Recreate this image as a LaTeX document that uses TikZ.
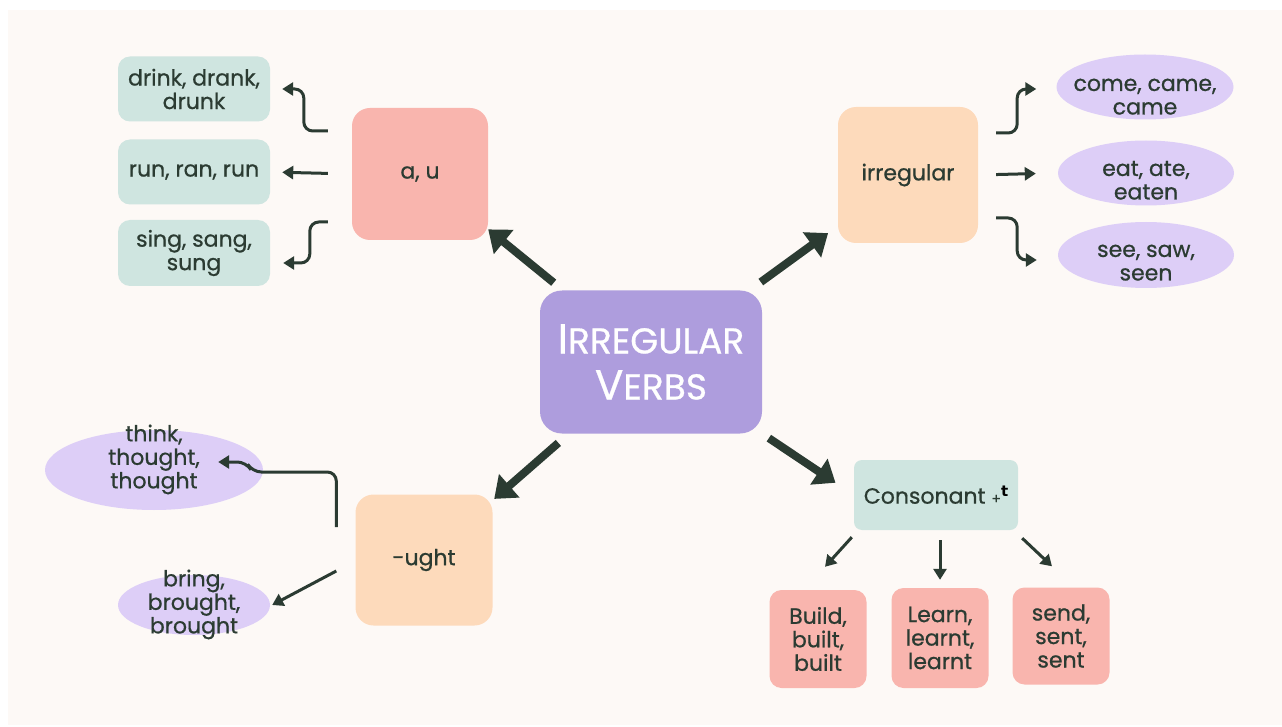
\documentclass[tikz,border=0pt]{standalone}
\usepackage{fontspec}
\setmainfont{Poppins}[FakeBold=0.7]
\newfontfamily\plusfont{DejaVu Sans}
\usetikzlibrary{arrows.meta,shapes.geometric}

\definecolor{paper}{HTML}{FDF9F6}
\definecolor{ink}{HTML}{2B3B32}
\definecolor{tealbox}{HTML}{CFE5E0}
\definecolor{pinkbox}{HTML}{F9B5AE}
\definecolor{peachbox}{HTML}{FDDABB}
\definecolor{lilac}{HTML}{DDCEF7}
\definecolor{hubpurple}{HTML}{AE9DDD}

\newcommand\leaffont{\fontsize{22}{23.5}\selectfont}
\newcommand\hubfont{\fontsize{36}{46}\selectfont}
% centred lines of text, drawn moved up or down by the optional amount
% while keeping their natural height and depth
\newcommand\wordstack[2][0pt]{\raisebox{#1}[\height][\depth]{\begin{tabular}{@{}c@{}}#2\end{tabular}}}

\tikzset{
  card/.style={rounded corners=12pt, inner sep=0pt, align=center,
    text=ink, font=\leaffont},
  blob/.style={card, rounded corners=18pt},
  oval/.style={ellipse, inner sep=-30pt, text=ink,
    font=\leaffont, fill=lilac},
  bigarrow/.style={draw=ink, line width=8pt,
    -{Triangle[length=20pt,width=30pt]}},
  smallarrow/.style={draw=ink, line width=3pt,
    -{Triangle[length=11pt,width=13pt]}, rounded corners=9pt},
}

\begin{document}
\begin{tikzpicture}[x=1pt,y=-1pt]
\useasboundingbox (0,0) rectangle (1282,727);
\fill[white] (0,0) rectangle (1282,727);
\fill[paper] (8,10) rectangle (1282,725);

% central topic
\node[blob, fill=hubpurple, text=white, font=\hubfont,
  minimum width=222pt, minimum height=143pt, rounded corners=22pt]
  (hub) at (651,362) {{\fontsize{42}{46}\selectfont I}RREGULAR\\
  {\fontsize{42}{46}\selectfont V}ERBS};

% vowel change a, u
\node[blob, fill=pinkbox, minimum width=136pt, minimum height=132pt]
  (au) at (420,174) {a, u};
\node[card, fill=tealbox, minimum width=152pt, minimum height=65pt]
  (drink) at (194,89) {drink, drank,\\drunk};
\node[card, fill=tealbox, minimum width=152pt, minimum height=65pt]
  (run) at (194,172) {run, ran, run};
\node[card, fill=tealbox, minimum width=152pt, minimum height=66pt]
  (sing) at (194,253) {sing, sang,\\sung};

% irregular
\node[blob, fill=peachbox, minimum width=140pt, minimum height=136pt]
  (irr) at (908,175) {irregular};
\node[oval, minimum width=177pt, minimum height=65pt]
  (come) at (1145,87) {\wordstack[-11pt]{come, came,\\came}};
\node[oval, minimum width=176pt, minimum height=65pt]
  (eat) at (1146,173) {\wordstack[-10pt]{eat, ate,\\eaten}};
\node[oval, minimum width=176pt, minimum height=66pt]
  (see) at (1146,255) {\wordstack[-9pt]{see, saw,\\seen}};

% -ught
\node[oval, minimum width=218pt, minimum height=80pt]
  (think) at (154,470) {\wordstack[10pt]{think,\\thought,\\thought}};
\node[oval, minimum width=152pt, minimum height=60pt]
  (bring) at (194,605) {\wordstack{bring,\\brought,\\brought}};
\node[blob, fill=peachbox, minimum width=137pt, minimum height=131pt]
  (ught) at (424,560) {-ught};

% consonant + t
\node[card, fill=tealbox, rounded corners=8pt,
  minimum width=164pt, minimum height=70pt]
  (cons) at (936,495) {Consonant {\fontsize{14}{14}\selectfont+}\raisebox{7pt}{\plusfont\bfseries\color{black}\fontsize{15}{15}\selectfont t}};
\node[card, fill=pinkbox, minimum width=97pt, minimum height=98pt]
  (build) at (818,639) {Build,\\built,\\built};
\node[card, fill=pinkbox, minimum width=97pt, minimum height=100pt]
  (learn) at (940,638) {Learn,\\learnt,\\learnt};
\node[card, fill=pinkbox, minimum width=97pt, minimum height=97pt]
  (send) at (1061,636) {send,\\sent,\\sent};

% hub to the four groups
\draw[bigarrow, shorten <=12pt] (hub) -- (au);
\draw[bigarrow, shorten <=14pt, shorten >=12pt] (hub) -- (irr);
\draw[bigarrow, shorten <=14pt, shorten >=2pt] (hub) -- (ught);
\draw[bigarrow, shorten <=8pt, shorten >=22pt] (hub.south east) -- (cons.west);

% a, u examples
\draw[smallarrow] ([shift={(-24,-43)}]au.west) -- ++(-24,0)
  |- ([xshift=12pt]drink.east);
\draw[smallarrow, shorten <=24pt, shorten >=12pt] (au.west) -- (run.east);
\draw[smallarrow] ([shift={(-24,48)}]au.west) -- ++(-18,0)
  |- ([shift={(13,10)}]sing.east);

% irregular examples
\draw[smallarrow] ([shift={(18,-42)}]irr.east) -- ++(21,0)
  |- ([shift={(-20,2)}]come.west);
\draw[smallarrow, shorten <=18pt, shorten >=22pt] (irr.east) -- (eat.west);
\draw[smallarrow] ([shift={(18,43)}]irr.east) -- ++(21,0)
  |- ([shift={(-21,5)}]see.west);

% -ught examples
\draw[smallarrow] ([shift={(-19,-33)}]ught.west) -- ++(0,-55) -- ++(-84,0)
  -- ++(-6,-10) -- ([shift={(-45,-8)}]think.east);
\draw[smallarrow, rounded corners=0pt] ([shift={(-19,11)}]ught.west)
  -- ([xshift=2pt]bring.east);

% consonant + t examples
\draw[smallarrow] ([shift={(-2,7)}]cons.south west) -- ([shift={(7,-23)}]build.north);
\draw[smallarrow, shorten <=10pt, shorten >=8pt] (cons.south -| learn) -- (learn.north);
\draw[smallarrow] ([shift={(4,8)}]cons.south east) -- ([shift={(-9,-21)}]send.north);
\end{tikzpicture}
\end{document}
